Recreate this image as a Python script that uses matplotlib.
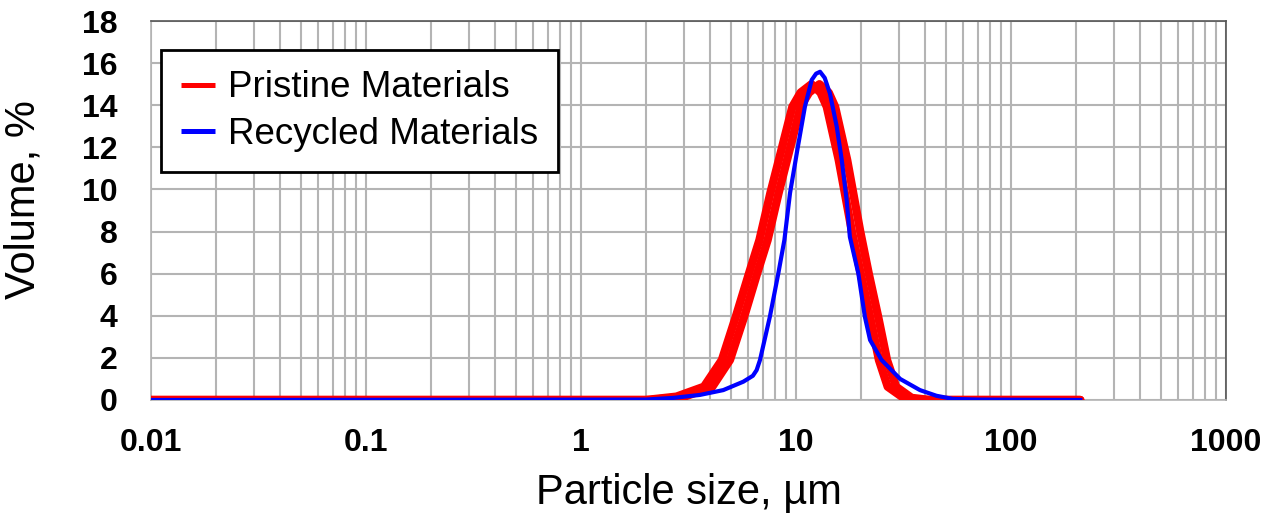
import matplotlib.pyplot as plt
from matplotlib.ticker import FixedLocator, LogLocator, NullFormatter

plt.rcParams["font.family"] = ["Liberation Sans", "DejaVu Sans"]

# particle size (um) and volume (%).
# the pristine trace is a thick band, drawn here as two overlapping runs
pristine_size_a = [0.01, 2.0, 2.78, 3.73, 4.52, 5.25, 6.04, 6.76, 7.6, 8.55, 9.62,
                   10.5, 11.8, 13.0, 13.9, 15.8, 18.2, 20.0, 22.1, 24.3, 26.7,
                   31.6, 38.0, 210.0]
pristine_size_b = [0.01, 2.1, 3.03, 4.08, 4.93, 5.74, 6.59, 7.38, 8.3, 9.33, 10.5,
                   11.5, 12.85, 14.2, 15.2, 17.3, 19.9, 21.8, 24.1, 26.5, 29.2,
                   34.5, 42.0, 210.0]
pristine_vol = [0.0, 0.0, 0.16, 0.63, 1.9, 3.96, 6.0, 7.6, 9.83, 11.87, 13.93,
                14.6, 15.0, 14.6, 13.93, 11.4, 8.0, 6.0, 3.96, 1.9, 0.63,
                0.1, 0.0, 0.0]

recycled_size = [0.01, 2.0, 2.69, 3.57, 4.59, 5.69, 6.3, 6.56, 6.8, 7.56, 8.27,
                 8.83, 9.38, 10.14, 11.0, 11.83, 12.4, 12.94, 13.6, 14.38, 15.47,
                 16.32, 17.2, 17.8, 19.5, 20.9, 22.1, 25.0, 30.5, 37.7, 45.0,
                 53.7, 70.0, 210.0]
recycled_vol = [0.0, 0.02, 0.1, 0.24, 0.47, 0.87, 1.15, 1.42, 1.9, 3.96, 6.0,
                7.6, 9.83, 11.87, 13.93, 15.2, 15.5, 15.59, 15.3, 14.56, 12.98,
                11.4, 9.5, 7.75, 6.0, 3.96, 2.85, 1.9, 1.0, 0.47, 0.2,
                0.05, 0.02, 0.0]

x_ticks = [0.01, 0.1, 1, 10, 100, 1000]
x_labels = ["0.01", "0.1", "1", "10", "100", "1000"]
y_ticks = list(range(0, 19, 2))

fig = plt.figure(figsize=(12.73, 5.13), dpi=100)
ax = fig.add_axes([0.1186, 0.2203, 0.8445, 0.7387])

red = "#ff0000"
blue = "#0000ff"
ax.plot(pristine_size_a, pristine_vol, color=red, lw=6, solid_capstyle="round",
        solid_joinstyle="round", label="Pristine Materials", zorder=3)
ax.plot(pristine_size_b, pristine_vol, color=red, lw=6, solid_capstyle="round",
        solid_joinstyle="round", zorder=3)
ax.plot(recycled_size, recycled_vol, color=blue, lw=3, solid_joinstyle="round",
        label="Recycled Materials", zorder=4)

ax.set_xscale("log")
ax.set_xlim(0.01, 1000)
ax.set_ylim(0, 18)
ax.xaxis.set_major_locator(FixedLocator(x_ticks))
ax.set_xticklabels(x_labels)
ax.xaxis.set_minor_locator(LogLocator(base=10, subs=range(2, 10), numticks=50))
ax.xaxis.set_minor_formatter(NullFormatter())
ax.set_yticks(y_ticks)

ax.grid(True, which="major", color="#b4b4b4", lw=1.5)
ax.grid(True, which="minor", axis="x", color="#b4b4b4", lw=1.5)
ax.set_axisbelow(True)
ax.tick_params(which="both", length=0, labelsize=23)
ax.tick_params(axis="x", pad=20)
ax.tick_params(axis="y", pad=24)
for lab in ax.get_xticklabels() + ax.get_yticklabels():
    lab.set_fontweight("bold")

for side in ["top", "right"]:
    ax.spines[side].set_color("#555555")
for side in ["left", "bottom"]:
    ax.spines[side].set_color("#b4b4b4")
for sp in ax.spines.values():
    sp.set_linewidth(1.2)

ax.set_xlabel("Particle size, µm", fontsize=30, labelpad=11)
ax.set_ylabel("Volume, %", fontsize=30)
ax.yaxis.set_label_coords(-0.1, 0.528)

leg = ax.legend(loc="upper left", bbox_to_anchor=(0.0093, 0.923), borderaxespad=0,
                fontsize=26.5, handlelength=0.92, handletextpad=0.35,
                borderpad=0.55, fancybox=False, framealpha=1, labelspacing=0.32)
leg.get_frame().set_edgecolor("black")
leg.get_frame().set_linewidth(2)
for line in leg.get_lines():
    line.set_linewidth(3.6)
    line.set_solid_capstyle("butt")

fig.savefig("out.png", dpi=100)
